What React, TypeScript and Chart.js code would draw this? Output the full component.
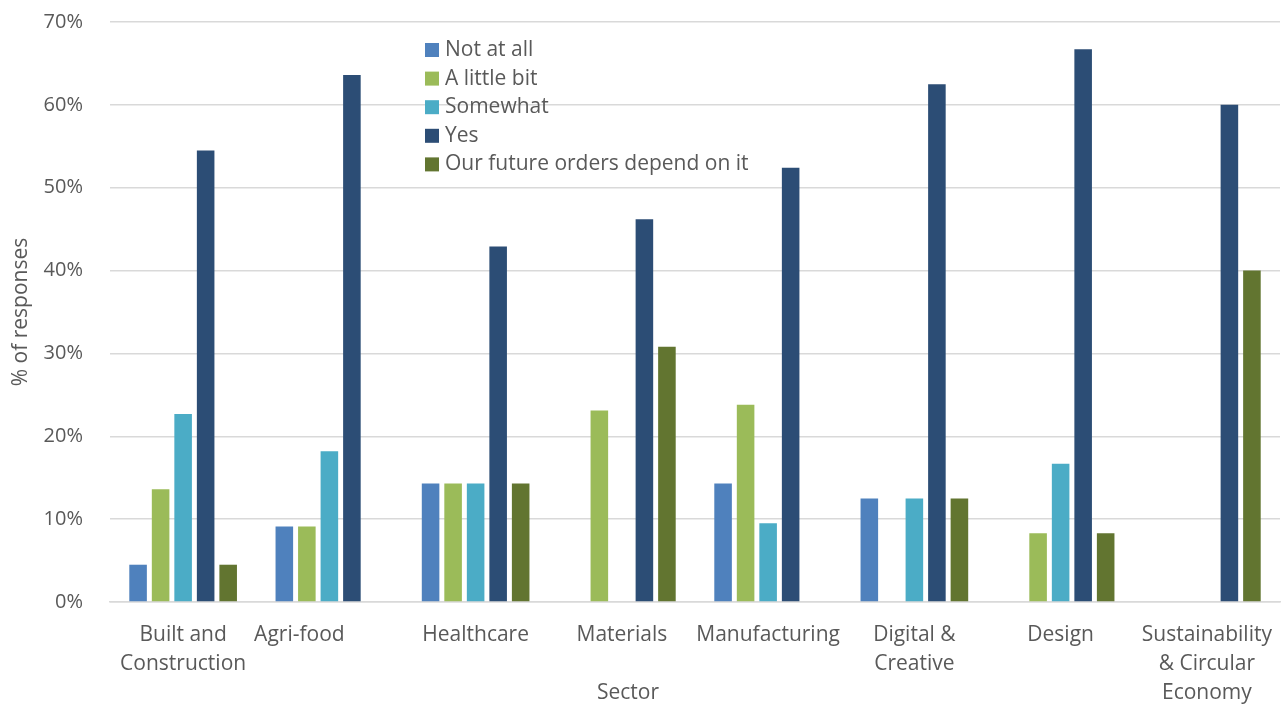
import React, { useEffect, useRef } from "react";
import { Chart, registerables } from "chart.js";

Chart.register(...registerables);

// Sectors on the x axis (multi-line labels are arrays)
const sectors: (string | string[])[] = [
  ["Built and", "Construction"],
  "Agri-food\u00a0\u00a0\u00a0\u00a0\u00a0\u00a0\u00a0\u00a0\u00a0\u00a0\u00a0",
  "Healthcare",
  "Materials",
  "Manufacturing",
  ["Digital &", "Creative"],
  "Design",
  ["Sustainability", "& Circular", "Economy"],
];

// Share of responses (%) per answer, one value per sector
const notAtAll = [4.5, 9.1, 14.3, 0, 14.3, 12.5, 0, 0];
const aLittleBit = [13.6, 9.1, 14.3, 23.1, 23.8, 0, 8.3, 0];
const somewhat = [22.7, 18.2, 14.3, 0, 9.5, 12.5, 16.7, 0];
const yes = [54.5, 63.6, 42.9, 46.2, 52.4, 62.5, 66.7, 60.0];
const futureOrders = [4.5, 0, 14.3, 30.8, 0, 12.5, 8.3, 40.0];

const seriesNames = [
  "Not at all",
  "A little bit",
  "Somewhat",
  "Yes",
  "Our future orders depend on it",
];
const seriesColors = ["#4F81BD", "#9BBB59", "#4BACC6", "#2C4D75", "#627530"];

const yTicks = [0, 10, 20, 30, 40, 50, 60, 70];

const FONT = "'Open Sans', sans-serif";
const TEXT = "#595959";

// Legend drawn inside the plot area, near the top
const insideLegend = {
  id: "insideLegend",
  afterDraw(chart: Chart) {
    const { ctx, chartArea } = chart;
    const x0 = chartArea.left + 315;
    const y0 = chartArea.top + 21;
    const step = 28.6;
    ctx.save();
    ctx.font = `21px ${FONT}`;
    ctx.textBaseline = "middle";
    ctx.textAlign = "left";
    chart.data.datasets.forEach((ds, i) => {
      const y = y0 + i * step;
      ctx.fillStyle = ds.backgroundColor as string;
      ctx.fillRect(x0, y, 14, 14);
      ctx.fillStyle = TEXT;
      ctx.fillText(String(ds.label), x0 + 20, y + 7);
    });
    ctx.restore();
  },
};

// Horizontal axis title
const sectorTitle = {
  id: "sectorTitle",
  afterDraw(chart: Chart) {
    const { ctx } = chart;
    ctx.save();
    ctx.font = `21px ${FONT}`;
    ctx.fillStyle = TEXT;
    ctx.textAlign = "center";
    ctx.textBaseline = "middle";
    ctx.fillText("Sector", chart.width / 2 - 15, 693);
    ctx.restore();
  },
};

export default function App() {
  const canvasRef = useRef<HTMLCanvasElement | null>(null);

  useEffect(() => {
    if (!canvasRef.current) return;
    const values = [notAtAll, aLittleBit, somewhat, yes, futureOrders];
    const chart = new Chart(canvasRef.current, {
      type: "bar",
      data: {
        labels: sectors,
        datasets: values.map((v, i) => ({
          label: seriesNames[i],
          data: v,
          backgroundColor: seriesColors[i],
          borderWidth: 0,
          categoryPercentage: 0.77,
          barPercentage: 0.78,
        })),
      },
      options: {
        animation: false,
        responsive: true,
        maintainAspectRatio: false,
        layout: { padding: { top: 22, right: 6, left: 0, bottom: 0 } },
        plugins: {
          legend: { display: false },
          tooltip: { enabled: false },
        },
        scales: {
          x: {
            grid: { display: false, drawTicks: false },
            border: { color: "#d9d9d9", width: 1.5 },
            ticks: {
              color: TEXT,
              font: { family: FONT, size: 21, lineHeight: 1.38 },
              maxRotation: 0,
              autoSkip: false,
              padding: 19,
            },
            afterFit(scale: any) {
              scale.height = 106;
              scale.paddingLeft = 0;
              scale.paddingRight = 0;
            },
          },
          y: {
            min: 0,
            max: 70,
            afterBuildTicks(scale: any) {
              scale.ticks = yTicks.map((v) => ({ value: v }));
            },
            grid: { color: "#d9d9d9", lineWidth: 1.5, drawTicks: false },
            border: { display: false },
            ticks: {
              color: TEXT,
              font: { family: FONT, size: 20 },
              padding: 27,
              callback: (v: any) => `${v}%`,
            },
            title: {
              display: true,
              text: "% of responses",
              color: TEXT,
              font: { family: FONT, size: 21 },
              padding: { top: 8, bottom: 0 },
            },
            afterFit(scale: any) {
              scale.width = 110;
              scale.paddingTop = 0;
              scale.paddingBottom = 0;
            },
          },
        },
      },
      plugins: [insideLegend, sectorTitle],
    });
    return () => chart.destroy();
  }, []);

  return (
    <div
      style={{
        position: "fixed",
        left: 0,
        top: 0,
        width: 1286,
        height: 708,
        background: "#ffffff",
      }}
    >
      <canvas ref={canvasRef} />
    </div>
  );
}
